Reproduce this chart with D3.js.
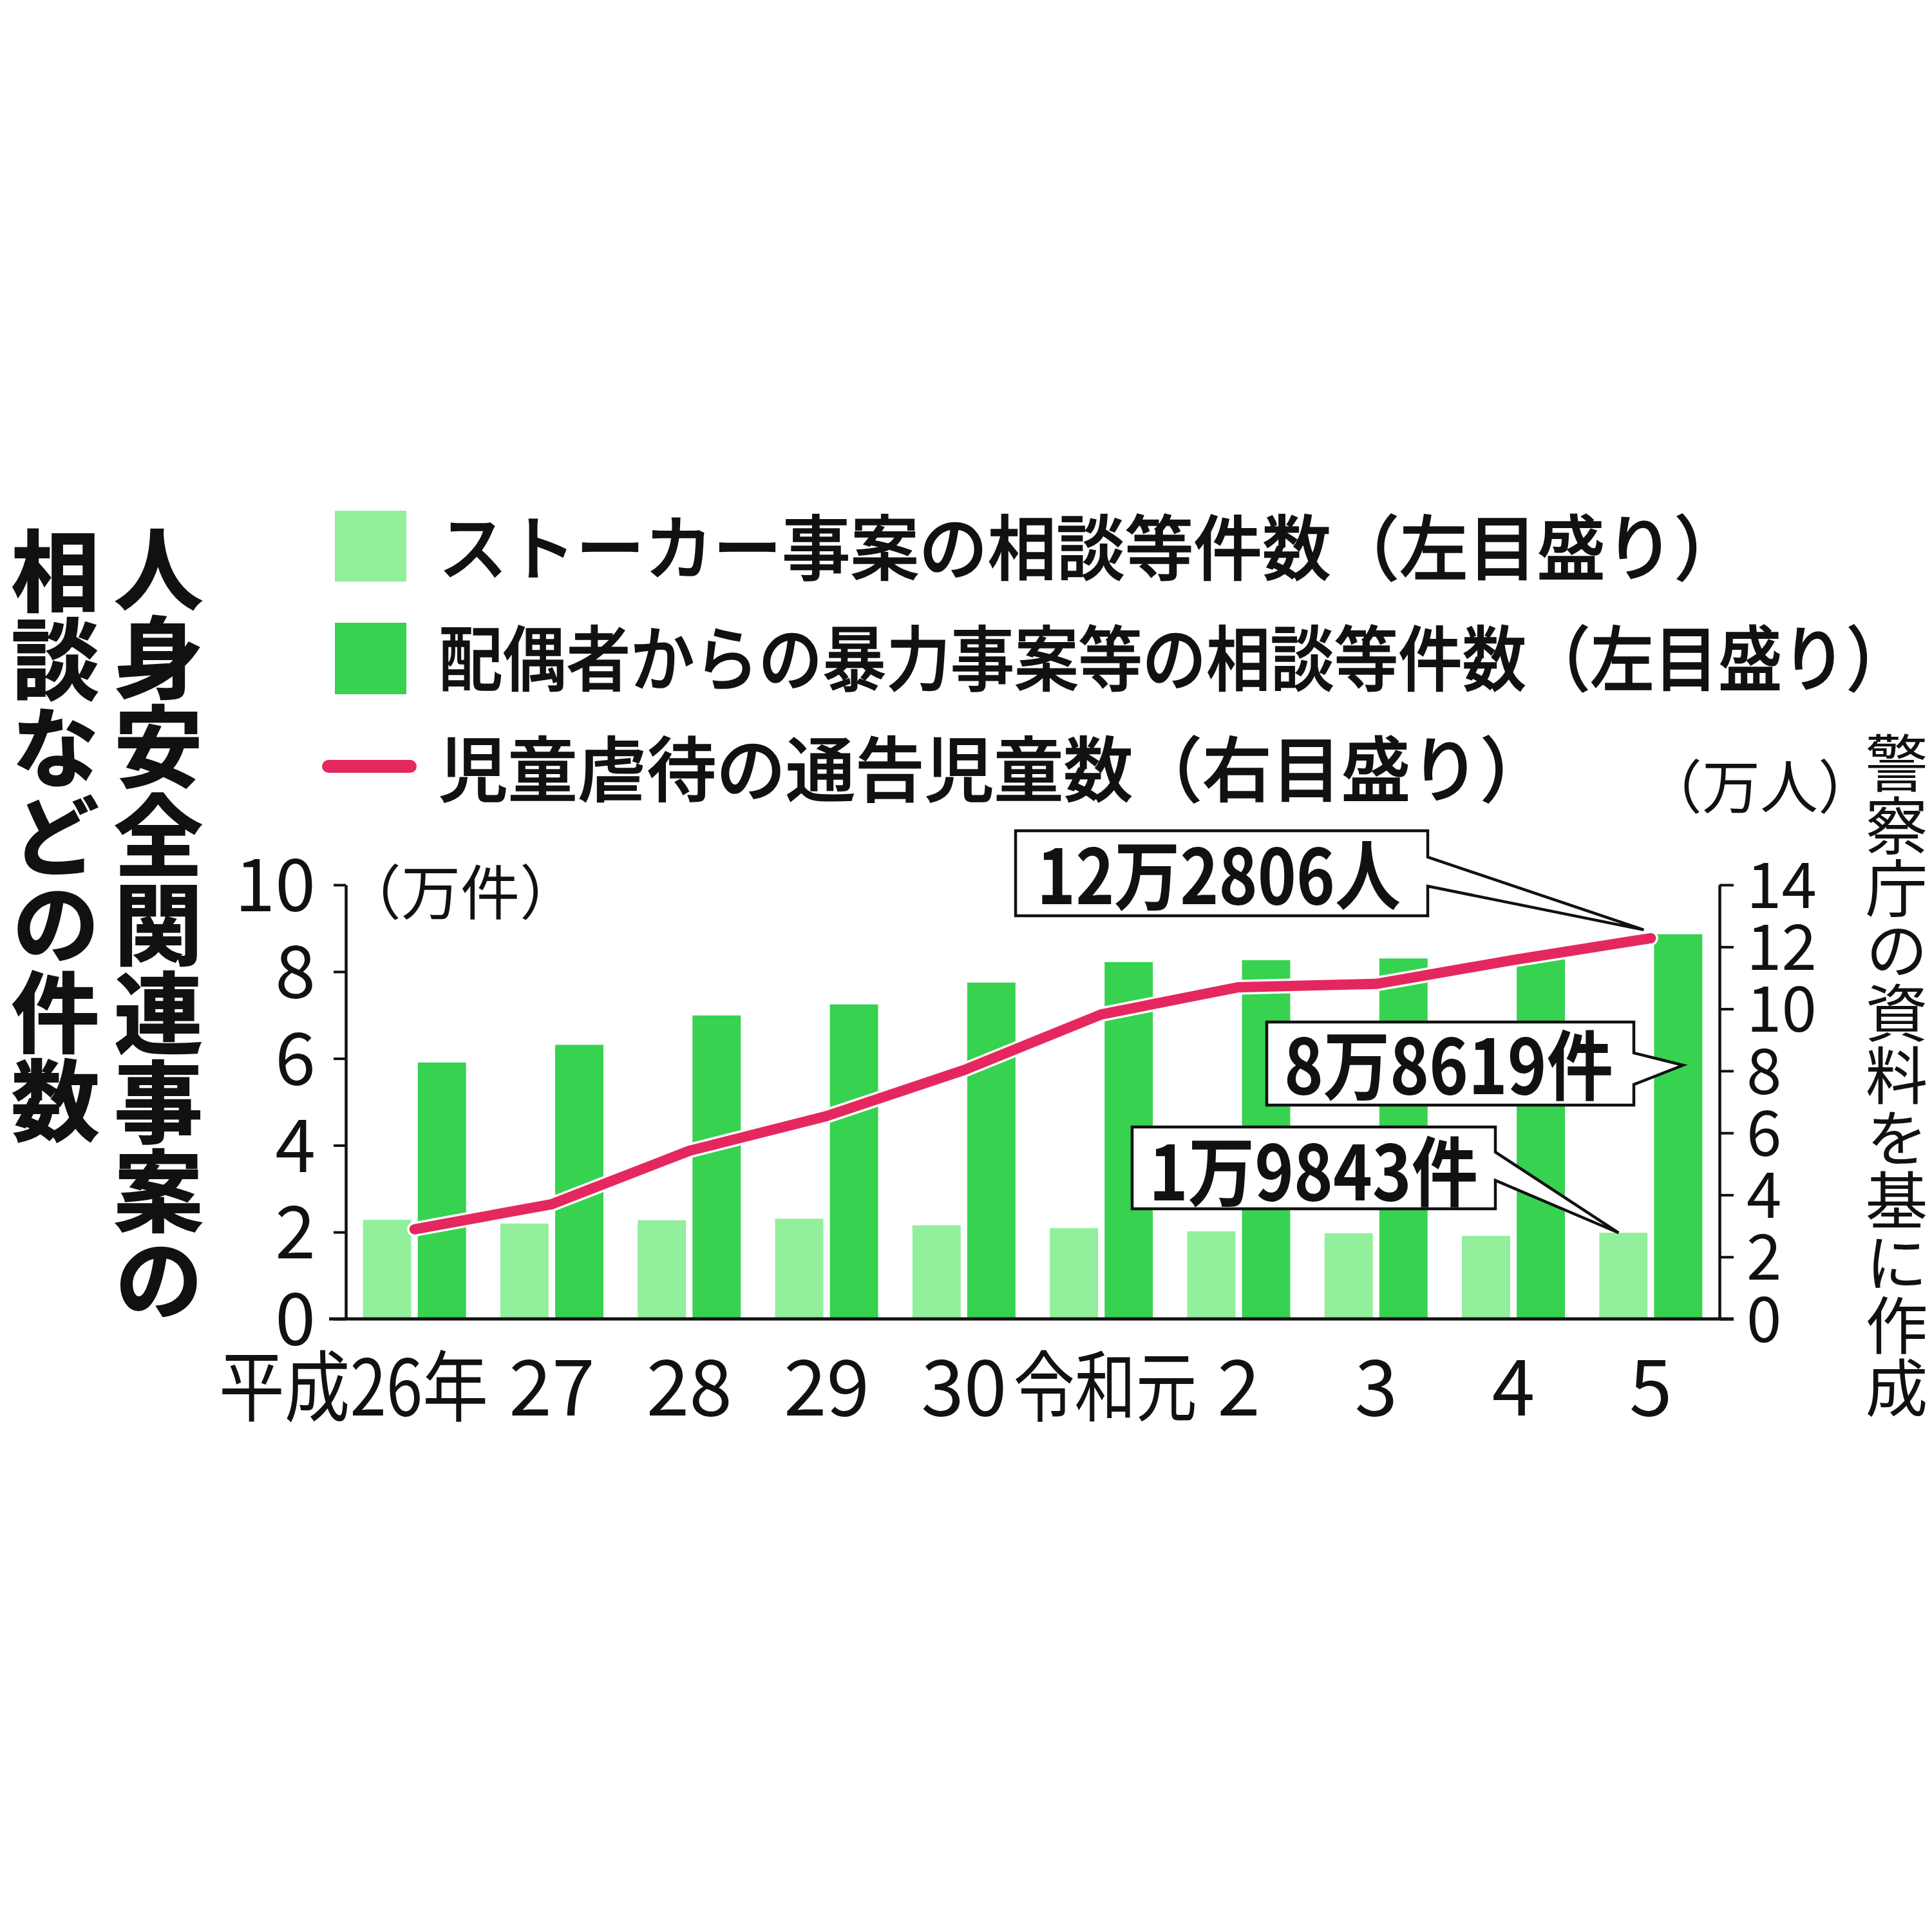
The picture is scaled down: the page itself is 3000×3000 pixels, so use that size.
<!DOCTYPE html>
<html>
<head>
<meta charset="utf-8">
<script src="https://cdn.jsdelivr.net/npm/d3@7"></script>
<style>
  body { margin: 0; background: #fff; }
  svg { display: block; font-family: "Noto Sans CJK JP", "Noto Sans", sans-serif; }
</style>
</head>
<body>
<div id="chart"></div>
<script>
// data (件 / 人)
const years = ["平成26年", "27", "28", "29", "30", "令和元", "2", "3", "4", "5"];
const stalker = [22823, 21968, 22737, 23079, 21556, 20912, 20189, 19728, 19131, 19843];
const dv = [59072, 63141, 69908, 72455, 77482, 82207, 82643, 83042, 84496, 88619];
const abuse = [28923, 37020, 54227, 65431, 80252, 98222, 106991, 108050, 115762, 122806];
const leftTicks = [0, 2, 4, 6, 8, 10];
const rightTicks = [0, 2, 4, 6, 8, 10, 12, 14];
const seriesKeys = ["stalker", "dv"];
const legendLabels = [
  "ストーカー事案の相談等件数（左目盛り）",
  "配偶者からの暴力事案等の相談等件数（左目盛り）",
  "児童虐待の通告児童数（右目盛り）"
];
const callouts = ["12万2806人", "8万8619件", "1万9843件"];

const W = 3000, H = 3000;
const lightGreen = "#92ef9b", darkGreen = "#36d250", pink = "#e4285f";

// plot frame
const plotLeft = 537, plotRight = 2670, plotTop = 1374, plotBottom = 2048;

const svg = d3.select("#chart")
  .append("svg")
  .attr("width", W)
  .attr("height", H);

svg.append("rect").attr("width", W).attr("height", H).attr("fill", "#fff");

const x = d3.scaleBand()
  .domain(d3.range(years.length))
  .range([plotLeft, plotRight])
  .paddingInner(0.25)
  .paddingOuter(0.125);

const xs = d3.scaleBand()
  .domain(seriesKeys)
  .range([0, x.bandwidth()])
  .paddingInner(0.12);

const yL = d3.scaleLinear().domain([0, 10]).range([plotBottom, plotTop]);
const yR = d3.scaleLinear().domain([0, 14]).range([plotBottom, plotTop]);

// bars
const groups = svg.append("g")
  .selectAll("g")
  .data(years.map((y, i) => ({i, stalker: stalker[i] / 10000, dv: dv[i] / 10000})))
  .join("g")
  .attr("transform", d => `translate(${x(d.i)},0)`);

groups.selectAll("rect")
  .data(d => seriesKeys.map(k => ({k, v: d[k]})))
  .join("rect")
  .attr("x", d => xs(d.k))
  .attr("width", xs.bandwidth())
  .attr("y", d => yL(d.v))
  .attr("height", d => yL(0) - yL(d.v))
  .attr("fill", d => d.k === "stalker" ? lightGreen : darkGreen);

// axes
const leftAxis = svg.append("g")
  .attr("transform", `translate(${plotLeft},0)`)
  .call(d3.axisLeft(yL).tickValues(leftTicks).tickSize(19).tickSizeOuter(0).tickPadding(28));

const rightAxis = svg.append("g")
  .attr("transform", `translate(${plotRight},0)`)
  .call(d3.axisRight(yR).tickValues(rightTicks).tickSize(22).tickSizeOuter(0).tickPadding(20));

[leftAxis, rightAxis].forEach(g => {
  g.attr("font-family", null);
  g.select(".domain").attr("stroke", "#111").attr("stroke-width", 4.5);
  g.selectAll(".tick line").attr("stroke", "#111").attr("stroke-width", 4);
  g.selectAll(".tick text").attr("fill", "#111").attr("dy", "0.36em");
});
leftAxis.attr("font-size", 113);
rightAxis.attr("font-size", 98);

// baseline
svg.append("line")
  .attr("x1", plotLeft - 26).attr("x2", plotRight + 22)
  .attr("y1", plotBottom).attr("y2", plotBottom)
  .attr("stroke", "#111").attr("stroke-width", 5);

// x labels
const xAxis = svg.append("g")
  .attr("transform", `translate(0,${plotBottom})`)
  .call(d3.axisBottom(x).tickSize(0).tickFormat(i => years[i]));
xAxis.attr("font-family", null).attr("font-size", 120);
xAxis.select(".domain").remove();
xAxis.selectAll(".tick text")
  .attr("fill", "#111")
  .attr("y", 150)
  .attr("dy", 0);
xAxis.selectAll(".tick text")
  .filter(i => i === 0)
  .attr("text-anchor", "start")
  .attr("x", 340 - x(0) - x.bandwidth() / 2)
  .attr("textLength", 418)
  .attr("lengthAdjust", "spacingAndGlyphs");
xAxis.selectAll(".tick text")
  .filter(i => i === 5)
  .attr("x", 6)
  .attr("textLength", 285)
  .attr("lengthAdjust", "spacingAndGlyphs");

// abuse line (right scale)
const line = d3.line()
  .x((d, i) => x(i) + x.bandwidth() / 2)
  .y(d => yR(d / 10000));

svg.append("path")
  .datum(abuse)
  .attr("fill", "none")
  .attr("stroke", "#fff")
  .attr("stroke-width", 23)
  .attr("stroke-linejoin", "round")
  .attr("stroke-linecap", "round")
  .attr("d", line);

svg.append("path")
  .datum(abuse)
  .attr("fill", "none")
  .attr("stroke", pink)
  .attr("stroke-width", 16)
  .attr("stroke-linejoin", "round")
  .attr("stroke-linecap", "round")
  .attr("d", line);

// callout boxes
const last = years.length - 1;
const boxes = [
  {text: callouts[0], x0: 1577, x1: 2217, y0: 1290, y1: 1422, w0: 41, w1: 86,
   tip: [x(last) + x.bandwidth() / 2 - 11, yR(abuse[last] / 10000) - 13],
   tx: 1610, tl: 565, ty: 1404},
  {text: callouts[1], x0: 1967, x1: 2537, y0: 1587, y1: 1716, w0: 48, w1: 97,
   tip: [x(last) + xs("dv") + 45, 1654],
   tx: 1994, tl: 511, ty: 1699},
  {text: callouts[2], x0: 1758, x1: 2322, y0: 1750, y1: 1877, w0: 39, w1: 83,
   tip: [x(last) + xs("stalker") + 30, yL(stalker[last] / 10000)],
   tx: 1784, tl: 511, ty: 1864}
];

boxes.forEach(b => {
  const p = d3.path();
  p.moveTo(b.x0, b.y0);
  p.lineTo(b.x1, b.y0);
  p.lineTo(b.x1, b.y0 + b.w0);
  p.lineTo(b.tip[0], b.tip[1]);
  p.lineTo(b.x1, b.y0 + b.w1);
  p.lineTo(b.x1, b.y1);
  p.lineTo(b.x0, b.y1);
  p.closePath();
  svg.append("path")
    .attr("d", p.toString())
    .attr("fill", "#fff")
    .attr("stroke", "#111")
    .attr("stroke-width", 4.5)
    .attr("stroke-linejoin", "miter");
  svg.append("text")
    .attr("x", b.tx)
    .attr("y", b.ty)
    .attr("font-size", 118)
    .attr("font-weight", 700)
    .attr("fill", "#111")
    .attr("textLength", b.tl)
    .attr("lengthAdjust", "spacingAndGlyphs")
    .text(b.text);
});

// legend
const legend = svg.append("g");
legend.append("rect").attr("x", 520).attr("y", 793).attr("width", 111).attr("height", 110).attr("fill", lightGreen);
legend.append("rect").attr("x", 520).attr("y", 967).attr("width", 111).attr("height", 111).attr("fill", darkGreen);
legend.append("line")
  .attr("x1", 510).attr("x2", 637).attr("y1", 1190).attr("y2", 1190)
  .attr("stroke", pink).attr("stroke-width", 20).attr("stroke-linecap", "round");

const legendY = [892, 1064, 1236];
const legendLen = [2025, 2285, 1725];
legend.selectAll("text")
  .data(legendLabels)
  .join("text")
  .attr("x", 681)
  .attr("y", (d, i) => legendY[i])
  .attr("font-size", 110)
  .attr("font-weight", 500)
  .attr("fill", "#111")
  .attr("stroke", "#111")
  .attr("stroke-width", 1.5)
  .attr("textLength", (d, i) => legendLen[i])
  .attr("lengthAdjust", "spacingAndGlyphs")
  .text(d => d);

// units
svg.append("text")
  .attr("x", 531).attr("y", 1420)
  .attr("font-size", 92).attr("fill", "#111")
  .text("（万件）");
svg.append("text")
  .attr("x", 2553).attr("y", 1255)
  .attr("font-size", 90).attr("fill", "#111")
  .text("（万人）");

// vertical title
const vertical = (txt, cx, y, size, weight) =>
  svg.append("text")
    .attr("x", cx).attr("y", y)
    .attr("font-size", size)
    .attr("font-weight", weight)
    .attr("fill", "#111")
    .style("writing-mode", "vertical-rl")
    .style("text-orientation", "upright")
    .text(txt);

vertical("人身安全関連事案の", 246, 814, 138, 700).attr("stroke", "#111").attr("stroke-width", 2);
vertical("相談などの件数", 86, 818, 137, 700).attr("stroke", "#111").attr("stroke-width", 2);

// source
vertical("警察庁の資料を基に作成", 2945, 1136, 97, 400);
</script>
</body>
</html>
